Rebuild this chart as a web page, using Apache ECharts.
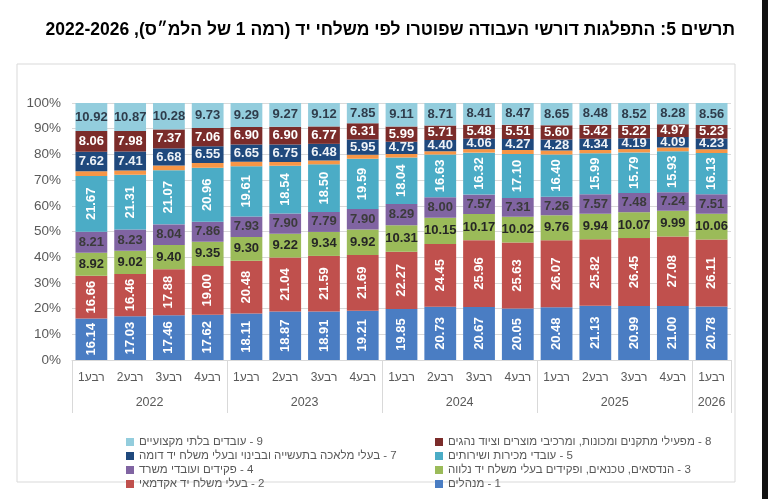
<!DOCTYPE html>
<html>
<head>
<meta charset="utf-8">
<script src="https://cdn.jsdelivr.net/npm/echarts@6/dist/echarts.min.js"></script>
<style>
  html, body { margin: 0; padding: 0; background: #fff; }
  #chart { width: 768px; height: 499px; }
</style>
</head>
<body>
<div id="chart" dir="rtl"></div>
<script>
// categories
const quarterLabels = ["רבע1", "רבע2", "רבע3", "רבע4", "רבע1", "רבע2", "רבע3", "רבע4",
  "רבע1", "רבע2", "רבע3", "רבע4", "רבע1", "רבע2", "רבע3", "רבע4", "רבע1"];
const years = ["2022", "2023", "2024", "2025", "2026"];
const yearSpans = [4, 4, 4, 4, 1];
const yTicks = [0, 10, 20, 30, 40, 50, 60, 70, 80, 90, 100];

const titleText = "תרשים 5: התפלגות דורשי העבודה שפוטרו לפי משלחי יד (רמה 1 של הלמ״ס), 2022-2026";

// series names (1..9)
const names = [
  "1 - מנהלים",
  "2 - בעלי משלח יד אקדמאי",
  "3 - הנדסאים, טכנאים, ופקידים בעלי משלח יד נלווה",
  "4 - פקידים ועובדי משרד",
  "5 - עובדי מכירות ושירותים",
  "6 - עובדים מקצועיים בחקלאות",
  "7 - בעלי מלאכה בתעשייה ובבינוי ובעלי משלח יד דומה",
  "8 - מפעילי מתקנים ומכונות, ומרכיבי מוצרים וציוד נהגים",
  "9 - עובדים בלתי מקצועיים"
];

// values (percent)
const s1 = [16.14, 17.03, 17.46, 17.62, 18.11, 18.87, 18.91, 19.21, 19.85, 20.73, 20.67, 20.05, 20.48, 21.13, 20.99, 21.00, 20.78];
const s2 = [16.66, 16.46, 17.88, 19.00, 20.48, 21.04, 21.59, 21.69, 22.27, 24.45, 25.96, 25.63, 26.07, 25.82, 26.45, 27.08, 26.11];
const s3 = [8.92, 9.02, 9.40, 9.35, 9.30, 9.22, 9.34, 9.92, 10.31, 10.15, 10.17, 10.02, 9.76, 9.94, 10.07, 9.99, 10.06];
const s4 = [8.21, 8.23, 8.04, 7.86, 7.93, 7.90, 7.79, 7.90, 8.29, 8.00, 7.57, 7.31, 7.26, 7.57, 7.48, 7.24, 7.51];
const s5 = [21.67, 21.31, 21.07, 20.96, 19.61, 18.54, 18.50, 19.59, 18.04, 16.63, 16.32, 17.10, 16.40, 15.99, 15.79, 15.93, 16.13];
const s6 = [1.80, 1.69, 1.82, 1.87, 1.73, 1.51, 1.50, 1.58, 1.39, 1.22, 1.36, 1.64, 1.50, 1.31, 1.29, 1.42, 1.39];
const s7 = [7.62, 7.41, 6.68, 6.55, 6.65, 6.75, 6.48, 5.95, 4.75, 4.40, 4.06, 4.27, 4.28, 4.34, 4.19, 4.09, 4.23];
const s8 = [8.06, 7.98, 7.37, 7.06, 6.90, 6.90, 6.77, 6.31, 5.99, 5.71, 5.48, 5.51, 5.60, 5.42, 5.22, 4.97, 5.23];
const s9 = [10.92, 10.87, 10.28, 9.73, 9.29, 9.27, 9.12, 7.85, 9.11, 8.71, 8.41, 8.47, 8.65, 8.48, 8.52, 8.28, 8.56];

const values = [s1, s2, s3, s4, s5, s6, s7, s8, s9];
const colors = ["#4a7dc3", "#c0504d", "#9bbb59", "#8064a2", "#4bacc6", "#f79646", "#1f497d", "#7b2c2a", "#93cddd"];
// label look per series: rotate / colour / show
const labelRotate = [90, 90, 0, 0, 90, 0, 0, 0, 0];
const labelColor = ["#fff", "#fff", "#262626", "#3b3b3b", "#fff", "#fff", "#eef2f7", "#fff", "#2f3d4c"];
const labelShow = [true, true, true, true, true, false, true, true, true];

const font = "'Liberation Sans', Arial, 'DejaVu Sans', sans-serif";

// year label positions = middle of each group of quarters
const yearTicks = [0];
const yearMids = [];
let acc = 0;
yearSpans.forEach(n => {
  yearMids.push(acc + n / 2);
  acc += n;
  yearTicks.push(acc);
});

const chart = echarts.init(document.getElementById("chart"), null, { renderer: "canvas" });

const series = values.map((arr, i) => ({
  name: names[i],
  type: "bar",
  stack: "total",
  data: arr,
  barCategoryGap: "18%",
  itemStyle: { color: colors[i] },
  label: {
    show: labelShow[i],
    position: "inside",
    rotate: labelRotate[i],
    color: labelColor[i],
    fontFamily: font,
    fontWeight: "bold",
    fontSize: 13,
    formatter: p => p.value.toFixed(2)
  }
}));

const legendStyle = { fontFamily: font, fontSize: 11.5, color: "#595959", lineHeight: 12 };

const option = {
  animation: false,
  backgroundColor: "#fff",
  title: {
    text: titleText,
    right: 28,
    top: 16,
    textStyle: { fontFamily: font, fontWeight: "bold", fontSize: 17.5, color: "#000" }
  },
  graphic: [
    {
      type: "rect",
      shape: { x: 17, y: 64, width: 718, height: 418 },
      style: { fill: null, stroke: "#d9d9d9", lineWidth: 1 },
      z: -1
    },
    {
      type: "rect",
      shape: { x: 762, y: 0, width: 6, height: 499 },
      style: { fill: "#111" }
    }
  ],
  legend: [
    {
      data: [names[8], names[6], names[3], names[1]],
      orient: "vertical",
      left: 121,
      top: 431,
      icon: "rect",
      itemWidth: 8,
      itemHeight: 8,
      itemGap: 2,
      align: "left",
      selectedMode: false,
      textStyle: legendStyle
    },
    {
      data: [names[7], names[4], names[2], names[0]],
      orient: "vertical",
      left: 430,
      top: 431,
      icon: "rect",
      itemWidth: 8,
      itemHeight: 8,
      itemGap: 2,
      align: "left",
      selectedMode: false,
      textStyle: legendStyle
    }
  ],
  grid: { left: 72, right: 37, top: 103, bottom: 139, containLabel: false },
  xAxis: [
    {
      type: "category",
      data: quarterLabels,
      axisLine: { show: true, lineStyle: { color: "#d9d9d9" } },
      axisTick: { show: false },
      axisLabel: { color: "#595959", fontFamily: font, fontSize: 12, margin: 12, interval: 0 }
    },
    {
      type: "value",
      position: "bottom",
      min: 0,
      max: quarterLabels.length,
      axisLine: { show: false },
      splitLine: { show: false },
      axisTick: {
        show: true,
        customValues: yearTicks,
        length: 53,
        lineStyle: { color: "#d9d9d9" }
      },
      axisLabel: {
        customValues: yearMids,
        margin: 36,
        color: "#595959",
        fontFamily: font,
        fontSize: 12.5,
        formatter: v => years[yearMids.indexOf(v)]
      }
    }
  ],
  yAxis: {
    type: "value",
    min: yTicks[0],
    max: yTicks[yTicks.length - 1],
    interval: 10,
    axisLine: { show: false },
    axisTick: { show: false },
    splitLine: { lineStyle: { color: "#d9d9d9" } },
    axisLabel: { formatter: "{value}%", color: "#595959", fontFamily: font, fontSize: 13.5, margin: 11 }
  },
  series: series
};

chart.setOption(option);
</script>
</body>
</html>
